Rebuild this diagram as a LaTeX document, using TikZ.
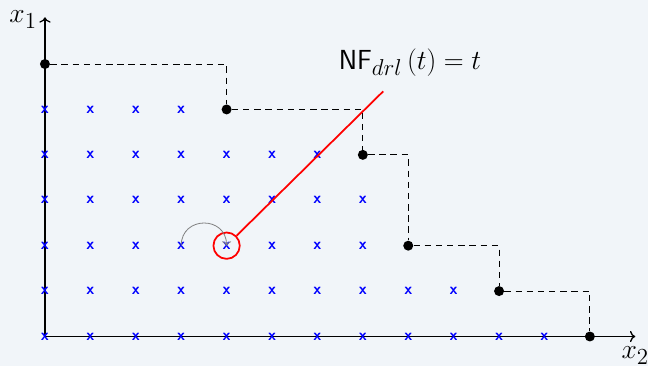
\documentclass[tikz,border=0pt]{standalone}
\usepackage{amsmath,amssymb}
\usepackage{xcolor}
\usepackage{tikz}
\usetikzlibrary{arrows.meta,positioning,calc,backgrounds}
\definecolor{PaleBg}{RGB}{241,245,249}

\begin{document}
\begin{tikzpicture}[
    font=\fontsize{19}{23}\selectfont,
    mono/.style={inner sep=0pt, text=blue, font=\normalsize\sffamily\bfseries},
    gen/.style={circle, fill=black, inner sep=0pt, minimum size=2.2mm},
    stair/.style={dashed, dash pattern=on 4pt off 3pt, line width=0.6pt},
    axis/.style={->, line width=0.8pt},
    >=To
  ]

  % Fon va chegaralar
  \useasboundingbox[fill=PaleBg] (-0.99,-0.66) rectangle (13.28,7.41);

  % O'qlar
  \coordinate (o) at (0,0);
  \coordinate (e1) at (0,7.03);
  \coordinate (e2) at (13,0);
  \draw[axis] (o) -- (e1);
  \draw[axis] (o) -- (e2);
  \node (l1) at (-0.48,6.98) {$x_1$};
  \node (l2) at (13.0,-0.42) {$x_2$};

  % Standart monomlar
  \foreach \y/\m in {0/11,1/9,2/7,3/7,4/6,5/3}{
    \foreach \x in {0,...,\m}{
      \node[mono] (m-\x-\y) at (\x,\y) {x};
    }
  }

  % Ideal generatorlari va zinapoya
  \node[gen] (g1) at (0,6) {};
  \node[gen] (g2) at (4,5) {};
  \node[gen] (g3) at (7,4) {};
  \node[gen] (g4) at (8,2) {};
  \node[gen] (g5) at (10,1) {};
  \node[gen] (g6) at (12,0) {};
  \draw[stair] (g1) -| (g2);
  \draw[stair] (g2) -| (g3);
  \draw[stair] (g3) -| (g4);
  \draw[stair] (g4) -| (g5);
  \draw[stair] (g5) -| (g6);

  % Normal forma
  \node[circle, draw=red, line width=1.1pt, minimum size=5.8mm, inner sep=0pt] (t) at (4,2) {};
  \coordinate (tend) at (7.45,5.4);
  \draw[red, line width=1.1pt] (t.45) -- (tend);
  \node (nf) at (8.04,6.04) {$\mathsf{NF}_{drl}\left(t\right)=t$};

  \draw[->, gray, line width=0.5pt] (m-3-2.center) to[out=90, in=90, looseness=1.7] (m-4-2.center);

\end{tikzpicture}
\end{document}
